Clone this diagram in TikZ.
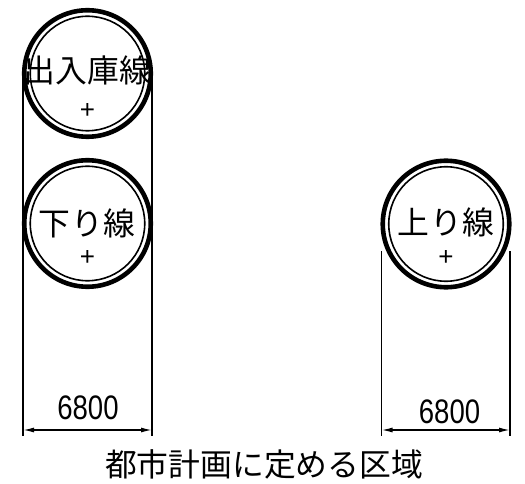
\documentclass[tikz,border=0pt]{standalone}
\usepackage{fontspec}
\setmainfont{Liberation Sans}
\newfontfamily\cjk{Noto Sans CJK JP}
\usetikzlibrary{arrows.meta}
\tikzset{
  x=1bp,y=-1bp,
  ringouter/.style={circle,draw,line width=4.6bp,minimum size=126.5bp,inner sep=0pt,outer sep=0pt},
  ringinner/.style={circle,draw,line width=1.6bp,minimum size=114.5bp,inner sep=0pt,outer sep=0pt},
  extline/.style={line width=1.4bp},
  dimline/.style={line width=1.4bp,{Latex[length=11bp,width=5bp]}-{Latex[length=11bp,width=5bp]}},
  jplabel/.style={font=\cjk\fontsize{31.8bp}{32bp}\selectfont,inner sep=0pt},
  dimlabel/.style={font=\fontsize{34bp}{34bp}\selectfont,inner sep=0pt,xscale=0.81},
  centermark/.style={font=\fontsize{26bp}{26bp}\selectfont,inner sep=0pt}
}
\begin{document}
\begin{tikzpicture}
\useasboundingbox (0,0) rectangle (525,484);
% extension lines
\coordinate (a1) at (23,74);  \coordinate (a2) at (23,436);
\coordinate (b1) at (152,74); \coordinate (b2) at (152,436);
\coordinate (c1) at (381.5,251); \coordinate (c2) at (381.5,436);
\coordinate (d1) at (510,251);   \coordinate (d2) at (510,436);
\coordinate (e1) at (23,430); \coordinate (e2) at (152,430);
\coordinate (f1) at (381.5,430); \coordinate (f2) at (510,430);
\draw[extline] (a1) -- (a2);
\draw[extline] (b1) -- (b2);
\draw[extline] (c1) -- (c2);
\draw[extline] (d1) -- (d2);
\draw[dimline] (e1) -- (e2);
\draw[dimline] (f1) -- (f2);
% rings
\node[ringouter,fill=white] (r1) at (87.5,73.5) {};
\node[ringinner] (r1i) at (87.5,73.5) {};
\node[ringouter,fill=white] (r2) at (87.5,223.5) {};
\node[ringinner] (r2i) at (87.5,223.5) {};
\node[ringouter,fill=white] (r3) at (446,224) {};
\node[ringinner] (r3i) at (446,224) {};
% labels
\node[jplabel] (t1) at (87.5,70) {出入庫線};
\node[centermark] (p1) at (87.5,111) {+};
\node[jplabel] (t2) at (87,223) {下\hspace{1bp}り\hspace{1bp}線};
\node[centermark] (p2) at (87.5,258) {+};
\node[jplabel] (t3) at (446,222) {上\hspace{1bp}り\hspace{1bp}線};
\node[centermark] (p3) at (446,258) {+};
\node[dimlabel] (d6a) at (88,408) {6800};
\node[dimlabel] (d6b) at (449.5,412) {6800};
\node[jplabel] (cap) at (264,464) {都市計画に定める区域};
\end{tikzpicture}
\end{document}
